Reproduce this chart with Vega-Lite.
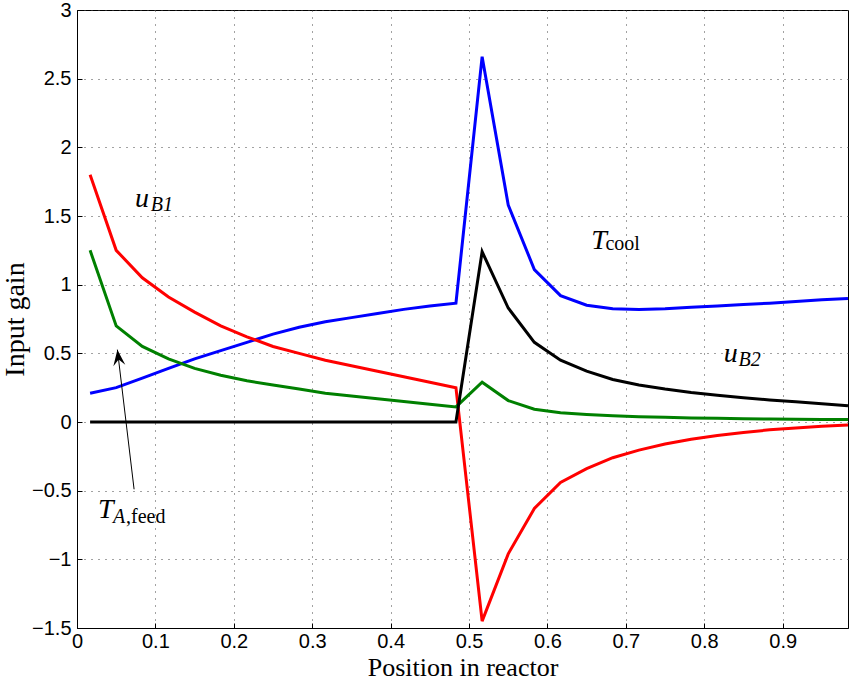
{
  "$schema": "https://vega.github.io/schema/vega-lite/v6.json",
  "width": 771,
  "height": 618,
  "autosize": {"type": "none"},
  "padding": {"left": 77, "top": 10, "right": 10, "bottom": 52},
  "background": "white",
  "config": {
    "view": {"stroke": "black", "strokeWidth": 1}
  },
  "datasets": {
    "curves": [
      {"s": "Tcool", "x": 0.0167, "y": 0.21}, {"s": "Tcool", "x": 0.05, "y": 0.25}, {"s": "Tcool", "x": 0.0833, "y": 0.32}, {"s": "Tcool", "x": 0.1167, "y": 0.39}, {"s": "Tcool", "x": 0.15, "y": 0.46}, {"s": "Tcool", "x": 0.1833, "y": 0.52}, {"s": "Tcool", "x": 0.2167, "y": 0.58}, {"s": "Tcool", "x": 0.25, "y": 0.64}, {"s": "Tcool", "x": 0.2833, "y": 0.69}, {"s": "Tcool", "x": 0.3167, "y": 0.73}, {"s": "Tcool", "x": 0.35, "y": 0.76}, {"s": "Tcool", "x": 0.3833, "y": 0.79}, {"s": "Tcool", "x": 0.4167, "y": 0.82}, {"s": "Tcool", "x": 0.45, "y": 0.845}, {"s": "Tcool", "x": 0.4833, "y": 0.865},
      {"s": "Tcool", "x": 0.5167, "y": 2.66}, {"s": "Tcool", "x": 0.55, "y": 1.58}, {"s": "Tcool", "x": 0.5833, "y": 1.11}, {"s": "Tcool", "x": 0.6167, "y": 0.92}, {"s": "Tcool", "x": 0.65, "y": 0.85}, {"s": "Tcool", "x": 0.6833, "y": 0.825}, {"s": "Tcool", "x": 0.7167, "y": 0.82}, {"s": "Tcool", "x": 0.75, "y": 0.825}, {"s": "Tcool", "x": 0.7833, "y": 0.835}, {"s": "Tcool", "x": 0.8167, "y": 0.845}, {"s": "Tcool", "x": 0.85, "y": 0.855}, {"s": "Tcool", "x": 0.8833, "y": 0.865}, {"s": "Tcool", "x": 0.9167, "y": 0.878}, {"s": "Tcool", "x": 0.95, "y": 0.89}, {"s": "Tcool", "x": 0.9833, "y": 0.9},
      {"s": "uB1", "x": 0.0167, "y": 1.8}, {"s": "uB1", "x": 0.05, "y": 1.25}, {"s": "uB1", "x": 0.0833, "y": 1.05}, {"s": "uB1", "x": 0.1167, "y": 0.91}, {"s": "uB1", "x": 0.15, "y": 0.8}, {"s": "uB1", "x": 0.1833, "y": 0.7}, {"s": "uB1", "x": 0.2167, "y": 0.62}, {"s": "uB1", "x": 0.25, "y": 0.55}, {"s": "uB1", "x": 0.2833, "y": 0.5}, {"s": "uB1", "x": 0.3167, "y": 0.45}, {"s": "uB1", "x": 0.35, "y": 0.41}, {"s": "uB1", "x": 0.3833, "y": 0.37}, {"s": "uB1", "x": 0.4167, "y": 0.33}, {"s": "uB1", "x": 0.45, "y": 0.29}, {"s": "uB1", "x": 0.4833, "y": 0.25},
      {"s": "uB1", "x": 0.5167, "y": -1.45}, {"s": "uB1", "x": 0.55, "y": -0.96}, {"s": "uB1", "x": 0.5833, "y": -0.63}, {"s": "uB1", "x": 0.6167, "y": -0.44}, {"s": "uB1", "x": 0.65, "y": -0.34}, {"s": "uB1", "x": 0.6833, "y": -0.26}, {"s": "uB1", "x": 0.7167, "y": -0.205}, {"s": "uB1", "x": 0.75, "y": -0.16}, {"s": "uB1", "x": 0.7833, "y": -0.125}, {"s": "uB1", "x": 0.8167, "y": -0.098}, {"s": "uB1", "x": 0.85, "y": -0.076}, {"s": "uB1", "x": 0.8833, "y": -0.057}, {"s": "uB1", "x": 0.9167, "y": -0.043}, {"s": "uB1", "x": 0.95, "y": -0.031}, {"s": "uB1", "x": 0.9833, "y": -0.021},
      {"s": "TAfeed", "x": 0.0167, "y": 1.25}, {"s": "TAfeed", "x": 0.05, "y": 0.7}, {"s": "TAfeed", "x": 0.0833, "y": 0.55}, {"s": "TAfeed", "x": 0.1167, "y": 0.46}, {"s": "TAfeed", "x": 0.15, "y": 0.39}, {"s": "TAfeed", "x": 0.1833, "y": 0.34}, {"s": "TAfeed", "x": 0.2167, "y": 0.3}, {"s": "TAfeed", "x": 0.25, "y": 0.27}, {"s": "TAfeed", "x": 0.2833, "y": 0.24}, {"s": "TAfeed", "x": 0.3167, "y": 0.21}, {"s": "TAfeed", "x": 0.35, "y": 0.19}, {"s": "TAfeed", "x": 0.3833, "y": 0.17}, {"s": "TAfeed", "x": 0.4167, "y": 0.15}, {"s": "TAfeed", "x": 0.45, "y": 0.13}, {"s": "TAfeed", "x": 0.4833, "y": 0.11},
      {"s": "TAfeed", "x": 0.5167, "y": 0.29}, {"s": "TAfeed", "x": 0.55, "y": 0.156}, {"s": "TAfeed", "x": 0.5833, "y": 0.093}, {"s": "TAfeed", "x": 0.6167, "y": 0.068}, {"s": "TAfeed", "x": 0.65, "y": 0.055}, {"s": "TAfeed", "x": 0.6833, "y": 0.046}, {"s": "TAfeed", "x": 0.7167, "y": 0.039}, {"s": "TAfeed", "x": 0.75, "y": 0.034}, {"s": "TAfeed", "x": 0.7833, "y": 0.03}, {"s": "TAfeed", "x": 0.8167, "y": 0.027}, {"s": "TAfeed", "x": 0.85, "y": 0.024}, {"s": "TAfeed", "x": 0.8833, "y": 0.022}, {"s": "TAfeed", "x": 0.9167, "y": 0.02}, {"s": "TAfeed", "x": 0.95, "y": 0.019}, {"s": "TAfeed", "x": 0.9833, "y": 0.018},
      {"s": "uB2", "x": 0.0167, "y": 0}, {"s": "uB2", "x": 0.05, "y": 0}, {"s": "uB2", "x": 0.0833, "y": 0}, {"s": "uB2", "x": 0.1167, "y": 0}, {"s": "uB2", "x": 0.15, "y": 0}, {"s": "uB2", "x": 0.1833, "y": 0}, {"s": "uB2", "x": 0.2167, "y": 0}, {"s": "uB2", "x": 0.25, "y": 0}, {"s": "uB2", "x": 0.2833, "y": 0}, {"s": "uB2", "x": 0.3167, "y": 0}, {"s": "uB2", "x": 0.35, "y": 0}, {"s": "uB2", "x": 0.3833, "y": 0}, {"s": "uB2", "x": 0.4167, "y": 0}, {"s": "uB2", "x": 0.45, "y": 0}, {"s": "uB2", "x": 0.4833, "y": 0},
      {"s": "uB2", "x": 0.5167, "y": 1.24}, {"s": "uB2", "x": 0.55, "y": 0.83}, {"s": "uB2", "x": 0.5833, "y": 0.58}, {"s": "uB2", "x": 0.6167, "y": 0.45}, {"s": "uB2", "x": 0.65, "y": 0.37}, {"s": "uB2", "x": 0.6833, "y": 0.31}, {"s": "uB2", "x": 0.7167, "y": 0.27}, {"s": "uB2", "x": 0.75, "y": 0.24}, {"s": "uB2", "x": 0.7833, "y": 0.215}, {"s": "uB2", "x": 0.8167, "y": 0.195}, {"s": "uB2", "x": 0.85, "y": 0.177}, {"s": "uB2", "x": 0.8833, "y": 0.161}, {"s": "uB2", "x": 0.9167, "y": 0.147}, {"s": "uB2", "x": 0.95, "y": 0.133}, {"s": "uB2", "x": 0.9833, "y": 0.118}
    ],
    "mainLabels": [
      {"x": 0.0741, "y": 1.568, "t": "u"},
      {"x": 0.656, "y": 1.26, "t": "T"},
      {"x": 0.825, "y": 0.439, "t": "u"},
      {"x": 0.0268, "y": -0.699, "t": "T"}
    ],
    "subItalic": [
      {"x": 0.0941, "y": 1.537, "t": "B1"},
      {"x": 0.8436, "y": 0.41, "t": "B2"},
      {"x": 0.046, "y": -0.733, "t": "A"}
    ],
    "subRoman": [
      {"x": 0.674, "y": 1.253, "t": "cool"},
      {"x": 0.0625, "y": -0.733, "t": ",feed"}
    ],
    "arrow": [
      {"x": 0.0728, "y": -0.49, "x2": 0.0515, "y2": 0.527}
    ]
  },
  "encoding": {
    "x": {
      "field": "x",
      "type": "quantitative",
      "scale": {"domain": [0, 0.98333], "nice": false, "zero": false},
      "axis": {
        "values": [0, 0.1, 0.2, 0.3, 0.4, 0.5, 0.6, 0.7, 0.8, 0.9],
        "format": "~g",
        "title": "Position in reactor",
        "grid": true,
        "gridDash": [1, 6],
        "gridColor": "#444444",
        "gridOpacity": 1,
        "gridWidth": 1,
        "domainColor": "black",
        "tickColor": "black",
        "tickSize": -5,
        "labelFont": "Liberation Sans",
        "labelFontSize": 20,
        "labelColor": "black",
        "titleFont": "Liberation Serif",
        "titleFontSize": 26,
        "titleFontWeight": "normal",
        "titleColor": "black",
        "labelPadding": 8,
        "titlePadding": 3,
        "labelFlush": false
      }
    },
    "y": {
      "field": "y",
      "type": "quantitative",
      "scale": {"domain": [-1.5, 3], "nice": false, "zero": false},
      "axis": {
        "values": [-1.5, -1, -0.5, 0, 0.5, 1, 1.5, 2, 2.5, 3],
        "format": "~g",
        "title": "Input gain",
        "grid": true,
        "gridDash": [1, 6],
        "gridColor": "#444444",
        "gridOpacity": 1,
        "gridWidth": 1,
        "domainColor": "black",
        "tickColor": "black",
        "tickSize": -5,
        "labelFont": "Liberation Sans",
        "labelFontSize": 20,
        "labelColor": "black",
        "titleFont": "Liberation Serif",
        "titleFontSize": 28,
        "titleFontWeight": "normal",
        "titleColor": "black",
        "labelPadding": 11,
        "titlePadding": 2,
        "labelFlush": false
      }
    }
  },
  "layer": [
    {
      "data": {"name": "curves"},
      "mark": {"type": "line", "strokeWidth": 3, "strokeJoin": "miter", "strokeCap": "butt"},
      "encoding": {
        "color": {
          "field": "s",
          "type": "nominal",
          "scale": {"domain": ["Tcool", "uB1", "TAfeed", "uB2"], "range": ["#0000ff", "#ff0000", "#008000", "#000000"]},
          "legend": null
        }
      }
    },
    {
      "data": {"name": "arrow"},
      "mark": {"type": "rule", "color": "black", "strokeWidth": 1},
      "encoding": {
        "x2": {"field": "x2"},
        "y2": {"field": "y2"}
      }
    },
    {
      "data": {"name": "arrow"},
      "mark": {"type": "point", "filled": true, "color": "black", "opacity": 1, "shape": "M0,0 L0.375,1 L0,0.625 L-0.375,1 Z", "size": 1024, "angle": -7},
      "encoding": {
        "x": {"field": "x2", "type": "quantitative"},
        "y": {"field": "y2", "type": "quantitative"}
      }
    },
    {
      "data": {"name": "mainLabels"},
      "mark": {"type": "text", "font": "Liberation Serif", "fontStyle": "italic", "fontSize": 28, "align": "left", "baseline": "alphabetic", "color": "black"},
      "encoding": {"text": {"field": "t"}}
    },
    {
      "data": {"name": "subItalic"},
      "mark": {"type": "text", "font": "Liberation Serif", "fontStyle": "italic", "fontSize": 20, "align": "left", "baseline": "alphabetic", "color": "black"},
      "encoding": {"text": {"field": "t"}}
    },
    {
      "data": {"name": "subRoman"},
      "mark": {"type": "text", "font": "Liberation Serif", "fontSize": 20, "align": "left", "baseline": "alphabetic", "color": "black"},
      "encoding": {"text": {"field": "t"}}
    }
  ]
}
